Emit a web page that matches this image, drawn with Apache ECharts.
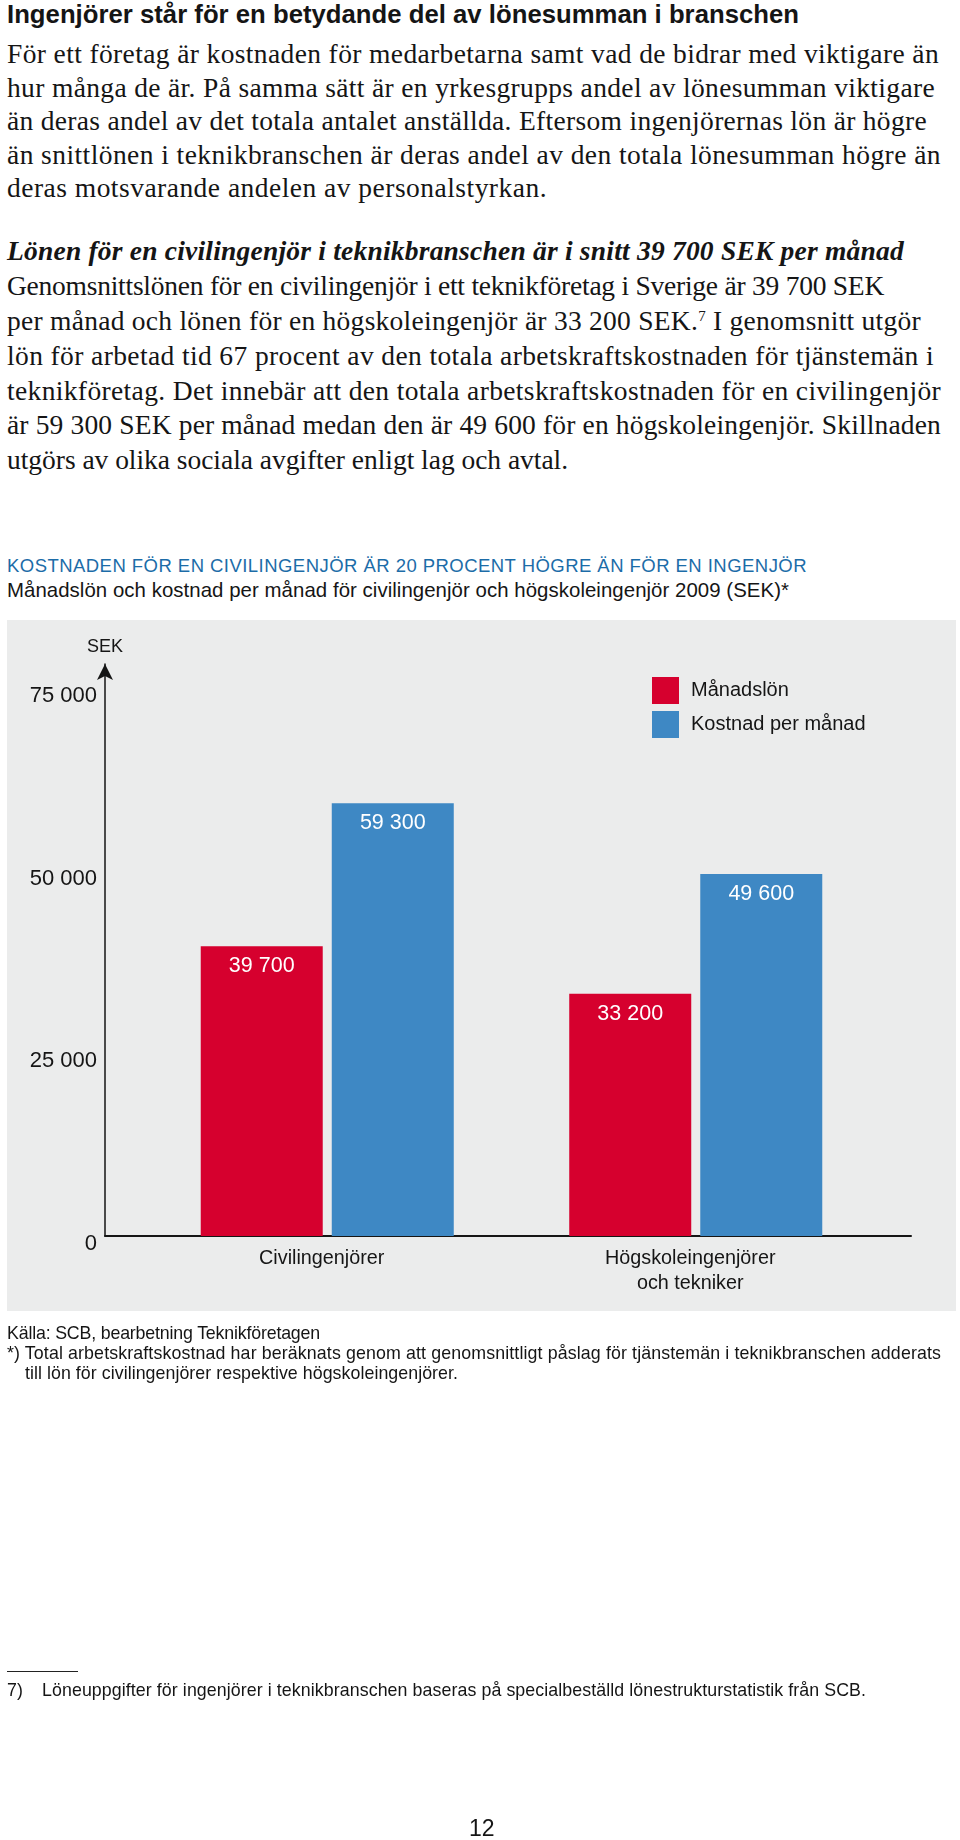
<!DOCTYPE html>
<html><head><meta charset="utf-8">
<script src="https://cdn.jsdelivr.net/npm/echarts@6/dist/echarts.min.js"></script>
<style>
body{margin:0;width:960px;height:1840px;position:relative;background:#fff;overflow:hidden;}
.t{position:absolute;left:7px;white-space:nowrap;color:#151515;height:30px;line-height:30px;}
.serif{font-family:"Liberation Serif","DejaVu Serif",serif;font-size:27.5px;letter-spacing:0.38px;}
.sans{font-family:"Liberation Sans",Arial,sans-serif;}
.src{font-size:17.8px;}
#panel{position:absolute;left:7px;top:620px;width:949px;height:691px;background:#ebecec;}
#chart{position:absolute;left:0;top:0;width:960px;height:1840px;}
</style></head>
<body>
<div class="t sans" data-r="799" style="top:-1px;font-size:25.7px;font-weight:bold;">Ingenjörer står för en betydande del av lönesumman i branschen</div>
<div class="t serif" data-r="939" style="top:39px">För ett företag är kostnaden för medarbetarna samt vad de bidrar med viktigare än</div>
<div class="t serif" data-r="935" style="top:72.5px">hur många de är. På samma sätt är en yrkesgrupps andel av lönesumman viktigare</div>
<div class="t serif" data-r="927" style="top:106px">än deras andel av det totala antalet anställda. Eftersom ingenjörernas lön är högre</div>
<div class="t serif" data-r="941" style="top:139.5px">än snittlönen i teknikbranschen är deras andel av den totala lönesumman högre än</div>
<div class="t serif" data-r="547" style="top:173px">deras motsvarande andelen av personalstyrkan.</div>
<div class="t serif" data-r="904" style="top:236px;font-style:italic;font-weight:bold;letter-spacing:0.2px;">Lönen för en civilingenjör i teknikbranschen är i snitt 39 700 SEK per månad</div>
<div class="t serif" data-r="884" style="top:271px">Genomsnittslönen för en civilingenjör i ett teknikföretag i Sverige är 39 700 SEK</div>
<div class="t serif" data-r="921" style="top:306px">per månad och lönen för en högskoleingenjör är 33 200 SEK.<span style="font-size:15px;position:relative;top:-9px;">7</span> I genomsnitt utgör</div>
<div class="t serif" data-r="934" style="top:341px">lön för arbetad tid 67 procent av den totala arbetskraftskostnaden för tjänstemän i</div>
<div class="t serif" data-r="941" style="top:376px">teknikföretag. Det innebär att den totala arbetskraftskostnaden för en civilingenjör</div>
<div class="t serif" data-r="941" style="top:410px">är 59 300 SEK per månad medan den är 49 600 för en högskoleingenjör. Skillnaden</div>
<div class="t serif" data-r="568" style="top:445px">utgörs av olika sociala avgifter enligt lag och avtal.</div>

<div class="t sans" data-r="807" style="top:551px;font-size:18.5px;color:#1c6ca8;letter-spacing:0.45px;">KOSTNADEN FÖR EN CIVILINGENJÖR ÄR 20 PROCENT HÖGRE ÄN FÖR EN INGENJÖR</div>
<div class="t sans" data-r="789" style="top:575px;font-size:20.4px;">Månadslön och kostnad per månad för civilingenjör och högskoleingenjör 2009 (SEK)*</div>

<div id="panel"></div>
<div id="chart"></div>

<div class="t sans src" data-r="320" style="top:1318px;">Källa: SCB, bearbetning Teknikföretagen</div>
<div class="t sans src" data-r="941" style="top:1338px;">*) Total arbetskraftskostnad har beräknats genom att genomsnittligt påslag för tjänstemän i teknikbranschen adderats</div>
<div class="t sans src" data-r="458" style="top:1358px;left:25px;">till lön för civilingenjörer respektive högskoleingenjörer.</div>

<div style="position:absolute;left:7px;top:1671px;width:71px;height:0;border-top:1px solid #222;"></div>
<div class="t sans src" style="top:1675px;">7)</div>
<div class="t sans src" data-r="866" style="top:1675px;left:42px;">Löneuppgifter för ingenjörer i teknikbranschen baseras på specialbeställd lönestrukturstatistik från SCB.</div>
<div class="t sans" style="top:1813px;left:469px;font-size:23px;">12</div>

<script>
// fit text line widths to the reference's right edges (layout only)
document.querySelectorAll('[data-r]').forEach(el => {
  const target = parseFloat(el.dataset.r);
  const right = el.getBoundingClientRect().right;
  const n = el.textContent.length;
  const ls = parseFloat(getComputedStyle(el).letterSpacing) || 0;
  el.style.letterSpacing = (ls + (target - right) / n).toFixed(3) + 'px';
});

const categories = ['Civilingenjörer', 'Högskoleingenjörer\noch tekniker'];
const seriesNames = ['Månadslön', 'Kostnad per månad'];
const manadslon = [39700, 33200];
const kostnad = [59300, 49600];
const yMin = 0;
const yMax = 78360;
const yInterval = 25000;

const RED = '#d6002e';
const BLUE = '#3e88c4';
const INK = '#151515';
const FONT = '"Liberation Sans", Arial, sans-serif';
const fmt = v => String(typeof v === 'object' ? v.value : v).replace(/\B(?=(\d{3})+(?!\d))/g, ' ');

const chart = echarts.init(document.getElementById('chart'), null, {renderer: 'canvas'});
chart.setOption({
  animation: false,
  textStyle: {fontFamily: FONT},
  grid: [
    {left: 143, right: 80, top: 664, bottom: 604},
    {left: 105, right: 49, top: 664, bottom: 604}
  ],
  legend: {
    orient: 'vertical', left: 652, top: 677, padding: 0,
    itemWidth: 27, itemHeight: 27, itemGap: 7, icon: 'rect',
    selectedMode: false,
    data: seriesNames,
    textStyle: {fontSize: 20, color: INK, fontFamily: FONT, padding: [0, 0, 0, 7]}
  },
  xAxis: [
    {type: 'category', gridIndex: 0, data: categories,
     axisLine: {show: false}, axisTick: {show: false},
     axisLabel: {fontSize: 19.8, color: INK, lineHeight: 25, margin: 10, fontFamily: FONT,
                 padding: [0, 11, 0, 0]}},
    {type: 'value', gridIndex: 1, min: 0, max: 1,
     axisLine: {show: true, onZero: false, lineStyle: {color: INK, width: 2}},
     axisTick: {show: false}, axisLabel: {show: false}, splitLine: {show: false}}
  ],
  yAxis: [
    {type: 'value', gridIndex: 0, min: yMin, max: yMax, show: false, splitLine: {show: false}},
    {type: 'value', gridIndex: 1, min: yMin, max: yMax, interval: yInterval,
     name: 'SEK', nameLocation: 'end', nameGap: 8,
     nameTextStyle: {fontSize: 18, color: INK, fontFamily: FONT},
     axisLine: {show: true, onZero: false, symbol: ['none', 'arrow'], symbolSize: [12, 16],
                lineStyle: {color: INK, width: 1.5}},
     axisTick: {show: false}, splitLine: {show: false},
     axisLabel: {showMaxLabel: false, fontSize: 22, color: INK, margin: 8,
                 verticalAlign: 'top', lineHeight: 15, fontFamily: FONT, formatter: fmt}}
  ],
  series: [
    {name: seriesNames[0], type: 'bar', xAxisIndex: 0, yAxisIndex: 0, data: manadslon,
     barWidth: 122, barGap: '7.4%', itemStyle: {color: RED},
     label: {show: true, position: 'insideTop', distance: 9, color: '#fff', fontSize: 21.5,
             fontFamily: FONT, formatter: p => fmt(p.value)}},
    {name: seriesNames[1], type: 'bar', xAxisIndex: 0, yAxisIndex: 0, data: kostnad,
     barWidth: 122, barGap: '7.4%', itemStyle: {color: BLUE},
     label: {show: true, position: 'insideTop', distance: 9, color: '#fff', fontSize: 21.5,
             fontFamily: FONT, formatter: p => fmt(p.value)}}
  ]
});
</script>
</body></html>
